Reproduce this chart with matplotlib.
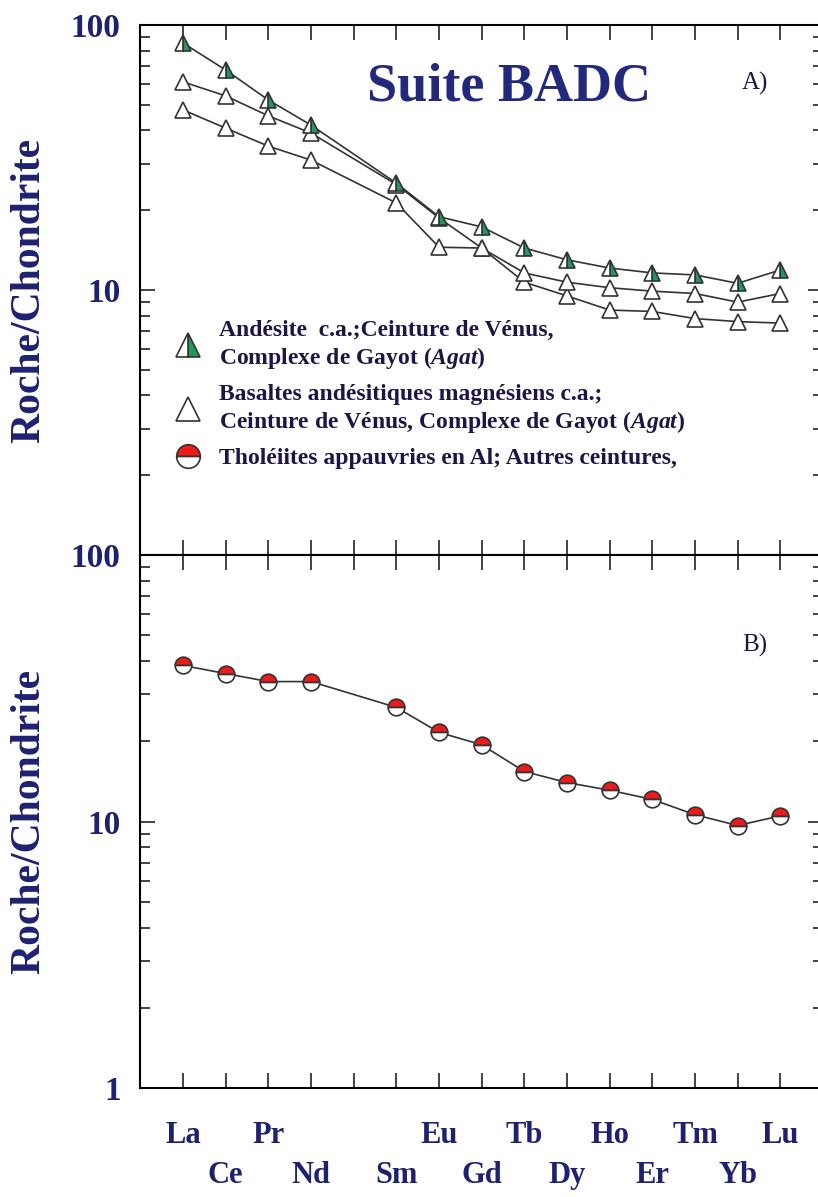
import numpy as np
import matplotlib
matplotlib.use("Agg")
import matplotlib.pyplot as plt
from matplotlib.lines import Line2D
from matplotlib.ticker import LogLocator, NullFormatter

plt.rcParams["font.family"] = ["Liberation Serif", "DejaVu Serif"]
plt.rcParams["mathtext.fontset"] = "custom"
plt.rcParams["mathtext.it"] = "Liberation Serif:italic:bold"
plt.rcParams["mathtext.rm"] = "Liberation Serif:bold"

# REE sequence (Pm kept as an empty slot on the axis)
elements = ["La", "Ce", "Pr", "Nd", "Pm", "Sm", "Eu", "Gd", "Tb", "Dy", "Ho", "Er", "Tm", "Yb", "Lu"]
plotted = ["La", "Ce", "Pr", "Nd", "Sm", "Eu", "Gd", "Tb", "Dy", "Ho", "Er", "Tm", "Yb", "Lu"]

# chondrite-normalised values
andesite = [85.5, 67.6, 52.1, 41.9, 25.3, 18.9, 17.3, 14.4, 13.0, 12.1, 11.6, 11.4, 10.6, 11.9]
basalte_1 = [61.0, 54.0, 45.4, 39.1, 25.0, 18.7, 14.4, 11.6, 10.7, 10.2, 9.9, 9.7, 9.0, 9.7]
basalte_2 = [47.8, 40.8, 34.9, 30.9, 21.3, 14.5, 14.4, 10.7, 9.5, 8.4, 8.3, 7.8, 7.6, 7.5]
tholeiite = [38.5, 35.9, 33.5, 33.5, 26.8, 21.6, 19.4, 15.4, 14.0, 13.1, 12.1, 10.6, 9.66, 10.5]

NAVY = "#1d2170"
INK = "#1f1446"
EDGE = "#333333"
GREEN = "#1f9a5c"
RED = "#ee1a1a"

xpos = [elements.index(e) for e in plotted]

W, H = 818, 1197
fig = plt.figure(figsize=(W / 100, H / 100), dpi=100)
left = 140 / W
width = 683 / W
ax_a = fig.add_axes([left, 1 - 555 / H, width, 530 / H])
ax_b = fig.add_axes([left, 1 - 1088 / H, width, 533 / H])


def style_axes(ax, ylabels):
    ax.set_yscale("log")
    ax.set_ylim(1, 100)
    ax.set_xlim(-1.01, 15.0)
    ax.set_xticks(range(len(elements)))
    ax.set_yticks([1, 10, 100])
    ax.set_yticklabels(ylabels)
    ax.yaxis.set_minor_locator(LogLocator(base=10, subs=np.arange(2, 10)))
    ax.yaxis.set_minor_formatter(NullFormatter())
    ax.tick_params(which="both", direction="in", top=True, right=True, color="#222222")
    ax.tick_params(which="major", length=11, width=1.2, pad=14)
    ax.tick_params(which="minor", length=7, width=1.2)
    ax.tick_params(axis="y", labelsize=24, labelcolor=NAVY)
    for lab in ax.get_yticklabels():
        lab.set_fontweight("bold")
    for sp in ax.spines.values():
        sp.set_linewidth(1.5)
    ax.set_ylabel("Roche/Chondrite", fontsize=30, fontweight="bold", color=NAVY, labelpad=16)


# ---- A) calc-alkaline series
style_axes(ax_a, ["", "10", "100"])
ax_a.set_xticklabels([])
line_kw = dict(color="#333333", lw=1.2, marker="^", markersize=12, markeredgecolor=EDGE,
               markeredgewidth=1.2)
ax_a.plot(xpos, basalte_2, markerfacecolor="white", **line_kw)
ax_a.plot(xpos, basalte_1, markerfacecolor="white", **line_kw)
ax_a.plot(xpos, andesite, fillstyle="right", markerfacecolor=GREEN,
          markerfacecoloralt="white", **line_kw)

ax_a.text(0.54, 0.883, "Suite BADC", transform=ax_a.transAxes, ha="center", va="center",
          fontsize=39, fontweight="bold", color="#22297c")
ax_a.text(0.9, 0.89, "A)", transform=ax_a.transAxes, ha="center", va="center",
          fontsize=18, color=INK)

handles = [
    Line2D([], [], ls="none", marker="^", markersize=17, fillstyle="right",
           markerfacecolor=GREEN, markerfacecoloralt="white", markeredgecolor=EDGE,
           markeredgewidth=1.2),
    Line2D([], [], ls="none", marker="^", markersize=17, markerfacecolor="white",
           markeredgecolor=EDGE, markeredgewidth=1.2),
    Line2D([], [], ls="none", marker="o", markersize=17, fillstyle="top",
           markerfacecolor=RED, markerfacecoloralt="white", markeredgecolor=EDGE,
           markeredgewidth=1.2),
]
labels = [
    "Andésite  c.a.;Ceinture de Vénus,\nComplexe de Gayot ($Agat$)",
    "Basaltes andésitiques magnésiens c.a.;\nCeinture de Vénus, Complexe de Gayot ($Agat$)",
    "Tholéiites appauvries en Al; Autres ceintures,",
]
leg = ax_a.legend(handles, labels, loc="upper left", bbox_to_anchor=(0.035, 0.465),
                  frameon=False, handlelength=1.0, handletextpad=0.85, labelspacing=0.55,
                  borderpad=0, prop={"family": "Liberation Serif", "weight": "bold", "size": 17},
                  labelcolor=INK)

# ---- B) tholeiites
style_axes(ax_b, ["1", "10", "100"])
ax_b.plot(xpos, tholeiite, color="#333333", lw=1.2, marker="o", markersize=12,
          fillstyle="top", markerfacecolor=RED, markerfacecoloralt="white",
          markeredgecolor=EDGE, markeredgewidth=1.2)
ax_b.text(0.9, 0.83, "B)", transform=ax_b.transAxes, ha="center", va="center",
          fontsize=18, color=INK)

xlabels = []
for i, e in enumerate(elements):
    if e == "Pm":
        xlabels.append("")
    elif i % 2 == 0:
        xlabels.append(e)
    else:
        xlabels.append("\n" + e)
ax_b.set_xticklabels(xlabels)
ax_b.tick_params(axis="x", pad=24, labelsize=22, labelcolor=NAVY)
for lab in ax_b.get_xticklabels():
    lab.set_fontweight("bold")
    lab.set_linespacing(1.5)

fig.savefig("out.png", dpi=100)
